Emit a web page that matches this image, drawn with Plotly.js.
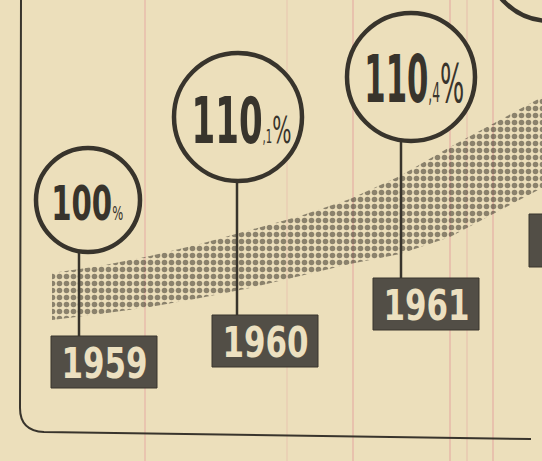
<!DOCTYPE html>
<html>
<head>
<meta charset="utf-8">
<script src="https://cdn.plot.ly/plotly-3.0.1.min.js"></script>
<style>html,body{margin:0;padding:0;background:#ecdfbb;}#chart{width:542px;height:461px;}</style>
</head>
<body>
<div id="chart"></div>
<script>
// ---- data ----
const years = ["1959", "1960", "1961"];
const values = [100, 110.1, 110.4];
const mainLabels = ["100", "110", "110"];
const fracLabels = ["", ",1", ",4"];

// ---- placement of the infographic elements (style, in page units) ----
const slotCx = [88, 238, 411];
const slotCy = [200, 117, 77];
const slotR = [52, 64, 64];
const stemX = [79, 237, 401];
const boxX0 = [51, 212, 373];
const boxY0 = [336, 315, 278];
const boxW = 106, boxH = 52;
const textCx = [87, 241, 414];
const textCy = [203, 121, 79];
const textW = [72, 100, 100];
const mainSize = [48, 64, 65];
const fracSize = [0, 19, 26];
const pctSize = [19, 38, 54];

// ribbon band outline (decorative trend band)
const bandTopX = [52, 100, 150, 200, 250, 300, 350, 400, 450, 500, 542];
const bandTopY = [273, 266, 256, 244, 230, 216, 199, 176, 147, 120, 97];
const bandBotX = [542, 500, 450, 400, 350, 300, 250, 200, 150, 100, 52];
const bandBotY = [188, 210, 237, 254, 264, 276, 288, 298, 307, 314, 320];

const ink = '#38342c';
const paper = '#ecdfbb';
const FONT = '"DejaVu Sans Condensed", "DejaVu Sans", sans-serif';

const traces = [];
traces.push({
  type: 'scatter', mode: 'lines',
  x: bandTopX.concat(bandBotX), y: bandTopY.concat(bandBotY),
  fill: 'toself', line: {width: 0, color: 'rgba(0,0,0,0)'},
  fillcolor: 'rgba(0,0,0,0)',
  fillpattern: {shape: '.', size: 7, solidity: 0.5, fgcolor: '#29251e', bgcolor: 'rgba(0,0,0,0)', fillmode: 'overlay'},
  hoverinfo: 'skip', showlegend: false
});

const shapes = [];
// paper pink rules
[[145, 0.3], [287, 0.15], [353, 0.35], [450, 0.35], [467, 0.2], [493, 0.35]].forEach(([px, a]) => {
  shapes.push({type: 'line', xref: 'x', yref: 'y', x0: px, x1: px, y0: 0, y1: 461,
    line: {color: `rgba(225,140,150,${a})`, width: 2}, layer: 'below'});
});
// frame
shapes.push({type: 'path', xref: 'x', yref: 'y',
  path: 'M 21 0 L 20 408 Q 20 431 44 432 L 531 439',
  line: {color: ink, width: 2}});

years.forEach((yr, i) => {
  shapes.push({type: 'line', xref: 'x', yref: 'y', x0: stemX[i], x1: stemX[i],
    y0: slotCy[i] + slotR[i], y1: boxY0[i], line: {color: ink, width: 2.5}});
  shapes.push({type: 'circle', xref: 'x', yref: 'y',
    x0: slotCx[i] - slotR[i], x1: slotCx[i] + slotR[i],
    y0: slotCy[i] - slotR[i], y1: slotCy[i] + slotR[i],
    fillcolor: paper, line: {color: ink, width: 4.5}});
  shapes.push({type: 'rect', xref: 'x', yref: 'y',
    x0: boxX0[i], x1: boxX0[i] + boxW, y0: boxY0[i], y1: boxY0[i] + boxH,
    fillcolor: '#524e46', line: {color: ink, width: 1}});
});
// cut-off next element at the right edge
shapes.push({type: 'circle', xref: 'x', yref: 'y', x0: 486, x1: 614, y0: -107, y1: 21,
  fillcolor: paper, line: {color: ink, width: 4.5}});
shapes.push({type: 'rect', xref: 'x', yref: 'y', x0: 529, x1: 590, y0: 214, y1: 267,
  fillcolor: '#524e46', line: {color: ink, width: 1}});

const annotations = [];
const targetW = [];
years.forEach((yr, i) => {
  const pct = `<span style="font-size:${pctSize[i]}px">%</span>`;
  const frac = fracLabels[i] ? `<span style="font-size:${fracSize[i]}px">${fracLabels[i]}</span>` : '';
  annotations.push({xref: 'x', yref: 'y', x: textCx[i], y: textCy[i],
    text: `<b>${mainLabels[i]}</b>${frac}${pct}`, showarrow: false,
    font: {family: FONT, size: mainSize[i], color: ink}, xanchor: 'center', yanchor: 'middle'});
  targetW.push(textW[i]);
  annotations.push({xref: 'x', yref: 'y', x: boxX0[i] + boxW / 2, y: boxY0[i] + boxH / 2 + 1,
    text: `<b>${yr}</b>`, showarrow: false,
    font: {family: FONT, size: 42, color: '#ece0c0'}, xanchor: 'center', yanchor: 'middle'});
  targetW.push(86);
});

const layout = {
  width: 542, height: 461,
  margin: {l: 0, r: 0, t: 0, b: 0},
  paper_bgcolor: paper, plot_bgcolor: paper,
  xaxis: {range: [0, 542], visible: false, fixedrange: true},
  yaxis: {range: [461, 0], visible: false, fixedrange: true},
  shapes: shapes, annotations: annotations, showlegend: false
};
Plotly.newPlot('chart', traces, layout, {displayModeBar: false, staticPlot: true}).then(gd => {
  // condense the lettering horizontally, like the narrow poster type of the original
  const texts = gd.querySelectorAll('g.annotation text.annotation-text');
  texts.forEach((t, k) => {
    const bb = t.getBBox();
    const s = targetW[k] / bb.width;
    const cx = bb.x + bb.width / 2;
    t.setAttribute('transform', `translate(${cx},0) scale(${s},1) translate(${-cx},0)`);
  });
});
</script>
</body>
</html>
